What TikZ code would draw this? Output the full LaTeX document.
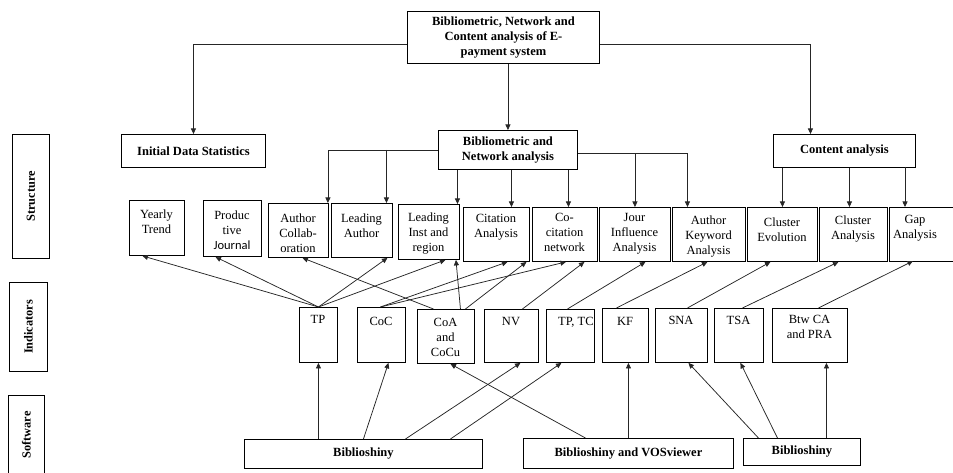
\documentclass[tikz,border=0pt]{standalone}
\usepackage{fontspec}
\setmainfont{Liberation Serif}
\newfontfamily\calib{Carlito}
\usetikzlibrary{arrows.meta,calc}
\tikzset{
  box/.style={draw=black, line width=0.9pt, inner sep=2pt, align=center,
    font=\fontsize{12.5}{15}\selectfont\bfseries},
  plainbox/.style={draw=black, line width=0.9pt, inner sep=0pt},
  txt/.style={inner sep=0pt, align=center, anchor=north,
    font=\fontsize{12.5}{15}\selectfont},
  vlab/.style={inner sep=0pt, rotate=90, anchor=center,
    font=\fontsize{12.3}{15}\selectfont\bfseries},
  arr/.style={draw=black!85, line width=0.75pt, -{Triangle[length=5.5pt,width=5pt]}},
}
\newcommand\mkbox[7][box]{\node[#1,minimum width={(#5)-(#3)},minimum height={(#6)-(#4)},anchor=north west] (#2) at (#3,#4) {#7};}
\begin{document}
\begin{tikzpicture}[x=1pt,y=-1pt]
\useasboundingbox (0,0) rectangle (953,473);
\clip (0,0) rectangle (953,473);
% side labels
\mkbox[plainbox]{lstr}{12}{134}{49}{258}{}
\mkbox[plainbox]{lind}{9}{282}{47}{371}{}
\mkbox[plainbox]{lsoft}{8}{395}{44}{476}{}
\node[vlab] (lstr-t) at (lstr.center) {Structure};
\node[vlab] (lind-t) at (lind.center) {Indicators};
\node[vlab] (lsoft-t) at ([yshift=1pt]lsoft.center) {Software};
% title level
\mkbox{top}{407}{11}{599}{63}{Bibliometric, Network and\\Content analysis of E-\\payment system}
\mkbox{ids}{121}{134}{265}{167}{Initial Data Statistics}
\mkbox{bna}{438}{130}{577}{169}{Bibliometric and\\Network analysis}
\mkbox{cta}{773}{134}{915}{167}{Content analysis}
% structure row
\mkbox[plainbox]{yt}{129}{200}{184}{255}{}
\mkbox[plainbox]{pj}{203}{200}{261}{256}{}
\mkbox[plainbox]{ac}{268}{203}{328}{257}{}
\mkbox[plainbox]{la}{331}{203}{392}{257}{}
\mkbox[plainbox]{li}{398}{204}{459}{259}{}
\mkbox[plainbox]{ca}{463}{207}{529}{261}{}
\mkbox[plainbox]{cn}{532}{207}{597}{261}{}
\mkbox[plainbox]{ji}{599}{207}{670}{261}{}
\mkbox[plainbox]{ak}{672}{207}{745}{261}{}
\mkbox[plainbox]{ce}{747}{207}{817}{261}{}
\mkbox[plainbox]{cl}{819}{207}{887}{261}{}
\mkbox[plainbox]{ga}{889}{207}{962}{261}{}
\node[txt] (yt-t) at (156.5,209.5) {Yearly\\Trend};
\node[txt] (pj-t) at (232,210.5) {Produc\\tive\\{\calib Journal}};
\node[txt] (ac-t) at (298,213.5) {Author\\Collab-\\oration};
\node[txt] (la-t) at (361.5,213.5) {Leading\\Author};
\node[txt] (li-t) at (428.5,212.5) {Leading\\Inst and\\region};
\node[txt] (ca-t) at (496,214.5) {Citation\\Analysis};
\node[txt] (cn-t) at (564.5,213.5) {Co-\\citation\\network};
\node[txt] (ji-t) at (634.5,213.5) {Jour\\Influence\\Analysis};
\node[txt] (ak-t) at (708.5,215.5) {Author\\Keyword\\Analysis};
\node[txt] (ce-t) at (782,217.5) {Cluster\\Evolution};
\node[txt] (cl-t) at (853,215.5) {Cluster\\Analysis};
\node[txt] (ga-t) at (915,215.5) {Gap\\Analysis};
% indicators row
\mkbox[plainbox]{tp}{299}{307}{337}{362}{}
\mkbox[plainbox]{coc}{357}{307}{405}{362}{}
\mkbox[plainbox]{coa}{417}{309}{474}{363}{}
\mkbox[plainbox]{nv}{484}{309}{538}{362}{}
\mkbox[plainbox]{tptc}{546}{309}{594}{362}{}
\mkbox[plainbox]{kf}{602}{308}{648}{362}{}
\mkbox[plainbox]{sna}{655}{308}{707}{362}{}
\mkbox[plainbox]{tsa}{714}{308}{763}{362}{}
\mkbox[plainbox]{btw}{772}{308}{847}{362}{}
\node[txt] (tp-t) at (318,315.5) {TP};
\node[txt] (coc-t) at (381,317.5) {CoC};
\node[txt] (coa-t) at (445.5,318.5) {CoA\\and\\CoCu};
\node[txt] (nv-t) at (511,317.5) {NV};
\node[txt,anchor=north west] (tptc-t) at (558,317.5) {TP, TC};
\node[txt] (kf-t) at (625,317.5) {KF};
\node[txt] (sna-t) at (681,316.5) {SNA};
\node[txt] (tsa-t) at (738.5,316.5) {TSA};
\node[txt] (btw-t) at (809.5,315.5) {Btw CA\\and PRA};
% software row
\mkbox{bs1}{244}{439}{482}{468}{Biblioshiny}
\mkbox{bv}{523}{438}{733}{468}{Biblioshiny and VOSviewer}
\mkbox{bs2}{743}{438}{860}{465}{Biblioshiny}
% top connectors
\coordinate (tl) at ([yshift=-7pt]top.west);
\coordinate (tr) at ([yshift=-7pt]top.east);
\draw[arr] (tl) -| (ids.north);
\draw[arr] (tr) -| ([xshift=-34pt]cta.north);
\draw[arr] (bna.north |- top.south) -- (bna.north);
% bibliometric branches
\draw[arr] (bna.west) -| ([xshift=-1pt]ac.north east);
\draw[arr] ([xshift=24.5pt]la.north |- bna.west) -- ([xshift=24.5pt]la.north);
\draw[arr] ([xshift=28.5pt]li.north |- bna.south) -- ([xshift=28.5pt]li.north);
\draw[arr] ([xshift=15pt]ca.north |- bna.south) -- ([xshift=15pt]ca.north);
\draw[arr] ([xshift=3.5pt]cn.north |- bna.south) -- ([xshift=3.5pt]cn.north);
\coordinate (br) at ([yshift=-3.5pt]bna.east);
\draw[arr] (br) -| ([xshift=-21.5pt]ak.north);
\draw[arr] (br -| ji.north) -- (ji.north);
% content branches
\draw[arr] (ce.north |- cta.south) -- (ce.north);
\draw[arr] ([xshift=-4pt]cl.north |- cta.south) -- ([xshift=-4pt]cl.north);
\draw[arr] (905,167) coordinate (gtop) -- (gtop |- ga.north);
% indicators to structure
\draw[arr] (tp.north) -- ([xshift=-14.5pt]yt.south);
\draw[arr] (tp.north) -- ([xshift=-17pt]pj.south);
\draw[arr] (tp.north) -- ([xshift=25.5pt]la.south);
\draw[arr] (tp.north) -- ([xshift=16.5pt]li.south);
\draw[arr] ([xshift=-1pt]coc.north) -- ([xshift=11pt]ca.south);
\draw[arr] ([xshift=-1pt]coc.north) -- ([xshift=1pt]cn.south);
\draw[arr] ([xshift=-12.5pt]coa.north) -- ([xshift=4pt]ac.south);
\draw[arr] ([xshift=14.5pt]coa.north) -- ([xshift=27pt]li.south);
\draw[arr] ([xshift=19.5pt]coa.north) -- ([xshift=30pt]ca.south);
\draw[arr] ([xshift=11pt]nv.north) -- ([xshift=19.5pt]cn.south);
\draw[arr] ([xshift=-3pt]tptc.north) -- ([xshift=10.5pt]ji.south);
\draw[arr] ([xshift=-9pt]kf.north) -- ([xshift=-1.5pt]ak.south);
\draw[arr] ([xshift=6pt]sna.north) -- ([xshift=-12pt]ce.south);
\draw[arr] ([xshift=3.5pt]tsa.north) -- ([xshift=-15pt]cl.south);
\draw[arr] ([xshift=8.5pt]btw.north) -- (913,261);
% software to indicators
\draw[arr] ([xshift=-45pt]bs1.north) -- (tp.south);
\draw[arr] (bs1.north) -- ([xshift=7pt]coc.south);
\draw[arr] ([xshift=42pt]bs1.north) -- ([xshift=9pt]nv.south);
\draw[arr] ([xshift=87pt]bs1.north) -- ([xshift=-9pt]tptc.south);
\draw[arr] ([xshift=-43pt]bv.north) -- ([xshift=4.5pt]coa.south);
\draw[arr] (bv.north) -- ([xshift=3pt]kf.south);
\draw[arr] ([xshift=-43.5pt]bs2.north) -- ([xshift=7pt]sna.south);
\draw[arr] ([xshift=-24.5pt]bs2.north) -- ([xshift=1.5pt]tsa.south);
\draw[arr] ([xshift=24.5pt]bs2.north) -- ([xshift=16.5pt]btw.south);
\end{tikzpicture}
\end{document}
